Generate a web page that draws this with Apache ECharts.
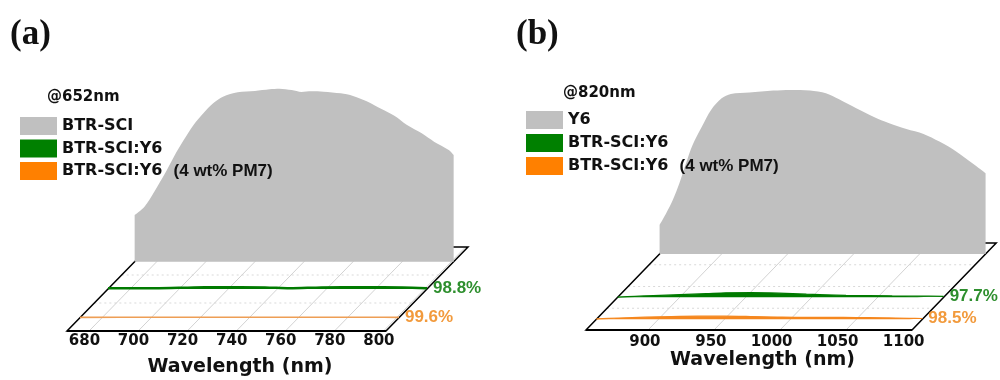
<!DOCTYPE html>
<html><head><meta charset="utf-8">
<script src="https://cdn.jsdelivr.net/npm/echarts@6/dist/echarts.min.js"></script>
<style>html,body{margin:0;padding:0;background:#fff}#c{width:1000px;height:380px}</style>
</head><body><div id="c"></div>
<script>
// ---------- Panel (a) data: @652nm ----------
const wlA_ref = [671, 675, 679, 683, 687, 691, 695, 699, 703, 707, 713, 720, 726, 730, 735, 739, 743, 748, 755, 760, 766, 771, 777, 782, 788, 793, 799, 801];
const plA_ref = [0.27, 0.318, 0.405, 0.501, 0.607, 0.703, 0.79, 0.858, 0.916, 0.954, 0.979, 0.987, 0.997, 1.0, 0.992, 0.981, 0.985, 0.983, 0.973, 0.958, 0.925, 0.887, 0.842, 0.79, 0.742, 0.694, 0.646, 0.617];
const wlA_y6 = [671, 690, 706, 715, 735, 745, 758, 775, 791, 801];
const plA_y6 = [0.004, 0.004, 0.009, 0.010, 0.009, 0.004, 0.009, 0.010, 0.009, 0.004];
const wlA_pm7 = [671, 700, 730, 760, 790, 801];
const plA_pm7 = [0.002, 0.003, 0.003, 0.003, 0.003, 0.002];
const ticksA = [680, 700, 720, 740, 760, 780, 800];
const namesA = ['BTR-SCI', 'BTR-SCI:Y6', 'BTR-SCI:Y6  (4 wt% PM7)'];
const quenchA = ['98.8%', '99.6%'];

// ---------- Panel (b) data: @820nm ----------
const wlB_ref = [853, 858, 863, 868, 873, 878, 885, 892, 900, 907, 921, 939, 952, 967, 979, 989, 1002, 1015, 1027, 1040, 1053, 1065, 1078, 1090, 1100];
const plB_ref = [0.177, 0.248, 0.329, 0.431, 0.553, 0.665, 0.776, 0.878, 0.949, 0.976, 0.984, 0.996, 1.0, 0.996, 0.980, 0.943, 0.888, 0.837, 0.797, 0.762, 0.732, 0.685, 0.624, 0.553, 0.492];
const wlB_y6 = [853, 866, 880, 900, 920, 935, 954, 975, 996, 1026, 1061, 1080, 1100];
const plB_y6 = [0.001, 0.006, 0.010, 0.016, 0.022, 0.027, 0.028, 0.025, 0.019, 0.012, 0.008, 0.007, 0.006];
const wlB_pm7 = [853, 870, 890, 910, 930, 950, 970, 990, 1010, 1030, 1050, 1070, 1090, 1100];
const plB_pm7 = [0.003, 0.008, 0.013, 0.017, 0.019, 0.019, 0.017, 0.014, 0.012, 0.012, 0.011, 0.009, 0.006, 0.005];
const ticksB = [900, 950, 1000, 1050, 1100];
const namesB = ['Y6', 'BTR-SCI:Y6', 'BTR-SCI:Y6  (4 wt% PM7)'];
const quenchB = ['97.7%', '98.5%'];

const zip = (a, b) => a.map((v, i) => [v, b[i]]);

// ---------- layout (oblique projection of each panel) ----------
const PA = {left: 67, width: 319, base: 331, H: 173, DX: 82, DY: 84, min: 671, max: 801,
  dGray: 0.825, dGreen: 0.5, dOrange: 0.158, depthGrid: [1/3, 2/3], labelShift: 11, labelDy: 3,
  nameGap: 27, ticks: ticksA, orangeLine: '#EE9E55', orangeW: 1.6, greenW: 2.5,
  wavelength: {ref: [wlA_ref, plA_ref], y6: [wlA_y6, plA_y6], pm7: [wlA_pm7, plA_pm7]}, names: namesA, quench: quenchA};
const PB = {left: 586, width: 326, base: 330, H: 164, DX: 84.2, DY: 87, min: 853, max: 1100,
  dGray: 0.874, dGreen: 0.376, dOrange: 0.123, depthGrid: [0.25, 0.5, 0.75], labelShift: 12.5, labelDy: 5,
  nameGap: 21, ticks: ticksB, orangeLine: '#F5871E', orangeW: 1.2, greenW: 1.3,
  wavelength: {ref: [wlB_ref, plB_ref], y6: [wlB_y6, plB_y6], pm7: [wlB_pm7, plB_pm7]}, names: namesB, quench: quenchB};

const GRAY = '#C0C0C0', GREEN = '#008000', ORANGE = '#FF8000';
const grids = [], xAxes = [], yAxes = [], series = [];

function addPanel(P) {
  const layers = [0, P.dGray, P.dGreen, P.dOrange];
  const base = grids.length;
  layers.forEach((d, k) => {
    grids.push({left: P.left + d * P.DX, top: P.base - d * P.DY - P.H, width: P.width, height: P.H});
    const xa = {type: 'value', gridIndex: base + k, min: P.min, max: P.max, show: false};
    if (k === 0) {
      Object.assign(xa, {show: true, axisLine: {show: false}, axisTick: {show: false}, axisLabel: {show: false},
        splitLine: {show: false}, name: 'Wavelength (nm)', nameLocation: 'middle', nameGap: P.nameGap,
        nameTextStyle: {fontFamily: 'DejaVu Sans', fontWeight: 'bold', fontSize: 19, color: '#111', padding: [0, 0, 0, 27]}});
    }
    xAxes.push(xa);
    yAxes.push({type: 'value', gridIndex: base + k, min: 0, max: 1, show: false});
  });
  // floor
  series.push({
    type: 'custom', xAxisIndex: base, yAxisIndex: base, z: 1, silent: true, clip: false,
    data: [[P.min, 0]],
    renderItem: function (params, api) {
      const c = [];
      const sh = (p, d) => [p[0] + d * P.DX, p[1] - d * P.DY];
      const L = api.coord([P.min, 0]), R = api.coord([P.max, 0]);
      P.ticks.forEach(t => {
        const p = api.coord([t, 0]), q = sh(p, 1);
        c.push({type: 'line', shape: {x1: p[0], y1: p[1], x2: q[0], y2: q[1]}, style: {stroke: '#c6c6c6', lineWidth: 0.8}});
      });
      P.depthGrid.forEach(d => {
        const a = sh(L, d), b = sh(R, d);
        c.push({type: 'line', shape: {x1: a[0], y1: a[1], x2: b[0], y2: b[1]}, style: {stroke: '#cfcfcf', lineWidth: 0.8, lineDash: [2, 3]}});
      });
      const BL = sh(L, 1), BR = sh(R, 1);
      c.push({type: 'polygon', shape: {points: [L, R, BR, BL]}, style: {fill: 'none', stroke: '#000', lineWidth: 1.5}});
      c.push({type: 'line', shape: {x1: L[0], y1: L[1], x2: R[0], y2: R[1]}, style: {stroke: '#000', lineWidth: 2}});
      P.ticks.forEach(t => {
        const p = api.coord([t, 0]);
        c.push({type: 'text', x: p[0] + P.labelShift, y: p[1] + P.labelDy,
          style: {text: String(t), align: 'right', verticalAlign: 'top', fontFamily: 'DejaVu Sans', fontWeight: 'bold', fontSize: 15, fill: '#111'}});
      });
      return {type: 'group', children: c};
    }
  });
  // spectra
  series.push({type: 'line', name: P.names[0], xAxisIndex: base + 1, yAxisIndex: base + 1, z: 2, silent: true,
    data: zip(P.wavelength.ref[0], P.wavelength.ref[1]), symbol: 'none', smooth: 0.3, clip: false,
    itemStyle: {color: GRAY}, lineStyle: {width: 0, color: GRAY}, areaStyle: {color: GRAY, opacity: 1}});
  const lab = (txt, col) => ({show: true, formatter: txt, color: col, fontFamily: 'Liberation Sans', fontWeight: 'bold', fontSize: 17, distance: 6});
  series.push({type: 'line', name: P.names[1], xAxisIndex: base + 2, yAxisIndex: base + 2, z: 3, silent: true,
    data: zip(P.wavelength.y6[0], P.wavelength.y6[1]), symbol: 'none', smooth: 0.3, clip: false,
    itemStyle: {color: GREEN}, lineStyle: {width: P.greenW, color: '#007A00'}, areaStyle: {color: '#007A00', opacity: 1},
    endLabel: lab(P.quench[0], '#2E8F2E')});
  series.push({type: 'line', name: P.names[2], xAxisIndex: base + 3, yAxisIndex: base + 3, z: 3, silent: true,
    data: zip(P.wavelength.pm7[0], P.wavelength.pm7[1]), symbol: 'none', smooth: 0.3, clip: false,
    itemStyle: {color: ORANGE}, lineStyle: {width: P.orangeW, color: P.orangeLine}, areaStyle: {color: P.orangeLine, opacity: 1},
    endLabel: lab(P.quench[1], '#F29A3C')});
}
addPanel(PA);
addPanel(PB);

const legendText = {fontFamily: 'DejaVu Sans', fontWeight: 'bold', fontSize: 16, color: '#111', lineHeight: 18,
  rich: {
    m: {fontFamily: 'DejaVu Sans', fontWeight: 'bold', fontSize: 16, color: '#111', lineHeight: 18},
    p: {fontFamily: 'Liberation Sans', fontWeight: 'bold', fontSize: 17, color: '#111', lineHeight: 18}
  }};
const legendFormatter = name => {
  const i = name.indexOf('(');
  return i < 0 ? '{m|' + name + '}' : '{m|' + name.slice(0, i) + '}{p|' + name.slice(i) + '}';
};
const legData = names => names.map((n, i) => ({name: n, itemStyle: {color: [GRAY, GREEN, ORANGE][i]}}));
const titleFont = {fontFamily: 'DejaVu Sans', fontWeight: 'bold', fontSize: 15, color: '#111'};
const panelFont = {fontFamily: 'Liberation Serif', fontWeight: 'bold', fontSize: 35, color: '#111'};

const option = {
  animation: false,
  backgroundColor: '#fff',
  title: [
    {text: '(a)', left: 10, top: 17, padding: 0, textStyle: panelFont},
    {text: '(b)', left: 516, top: 17, padding: 0, textStyle: panelFont},
    {text: '@652nm', left: 47, top: 90, padding: 0, textStyle: titleFont},
    {text: '@820nm', left: 563, top: 86, padding: 0, textStyle: titleFont}
  ],
  legend: [
    {left: 20, top: 117, orient: 'vertical', padding: 0, itemWidth: 37, itemHeight: 18, itemGap: 4.5, icon: 'rect',
      selectedMode: false, data: legData(namesA), textStyle: legendText, formatter: legendFormatter},
    {left: 526, top: 111, orient: 'vertical', padding: 0, itemWidth: 37, itemHeight: 18, itemGap: 5, icon: 'rect',
      selectedMode: false, data: legData(namesB), textStyle: legendText, formatter: legendFormatter}
  ],
  grid: grids, xAxis: xAxes, yAxis: yAxes, series: series
};
const chart = echarts.init(document.getElementById('c'), null, {renderer: 'canvas'});
chart.setOption(option);
</script>
</body></html>
